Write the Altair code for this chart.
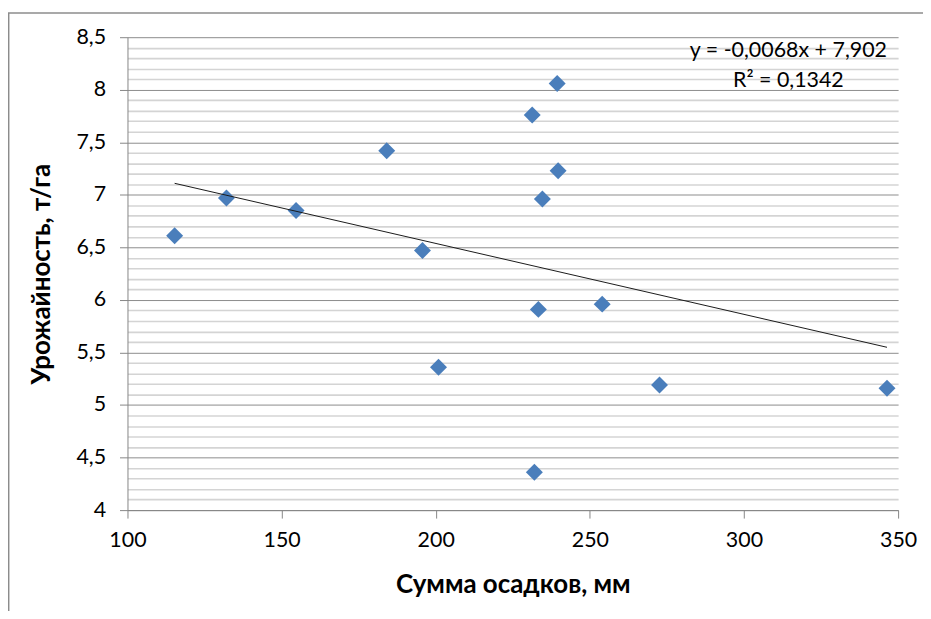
import altair as alt
import pandas as pd

# Data
rain = [115.3, 132.1, 154.7, 184.1, 195.7, 200.9, 231.3, 239.4, 239.7, 234.6, 233.3, 254.0, 232.0, 272.6, 346.4]
yield_t = [6.61, 6.97, 6.85, 7.42, 6.47, 5.36, 7.76, 8.06, 7.23, 6.96, 5.91, 5.96, 4.36, 5.19, 5.16]

x_ticks = [100, 150, 200, 250, 300, 350]
y_ticks = [4.0, 4.1, 4.2, 4.3, 4.4, 4.5, 4.6, 4.7, 4.8, 4.9,
           5.0, 5.1, 5.2, 5.3, 5.4, 5.5, 5.6, 5.7, 5.8, 5.9,
           6.0, 6.1, 6.2, 6.3, 6.4, 6.5, 6.6, 6.7, 6.8, 6.9,
           7.0, 7.1, 7.2, 7.3, 7.4, 7.5, 7.6, 7.7, 7.8, 7.9,
           8.0, 8.1, 8.2, 8.3, 8.4, 8.5]

ann_text = ["y = -0,0068x + 7,902", "R² = 0,1342"]
ann_x = [314.4, 314.4]
ann_y = [8.311, 8.027]

df = pd.DataFrame({"x": rain, "y": yield_t})
ann = pd.DataFrame({"x": ann_x, "y": ann_y, "t": ann_text})
one = pd.DataFrame({"a": [0]})

FONT = "Lato"
major = "abs(datum.value*2 - round(datum.value*2)) < 0.001"

xscale = alt.Scale(domain=[100, 350], nice=False, zero=False)
yscale = alt.Scale(domain=[4, 8.5], nice=False, zero=False)

xaxis = alt.Axis(
    values=x_ticks, tickCount=20, grid=False,
    domainColor="#868686", domainWidth=1,
    tickColor="#868686", tickSize=8, tickWidth=1,
    labelFont=FONT, labelFontSize=21.5, labelColor="#000000",
    labelPadding=12, labelFlush=False, labelOverlap=False,
    title="Сумма осадков, мм", titleFont=FONT, titleFontSize=26,
    titleFontWeight="bold", titleColor="#000000", titlePadding=20,
)

yaxis = alt.Axis(
    values=y_ticks, tickCount=100, grid=True,
    gridColor={"condition": {"test": major, "value": "#8C8C8C"}, "value": "#D4D4D4"},
    gridWidth={"condition": {"test": major, "value": 1}, "value": 1.6},
    domainColor="#868686", domainWidth=1,
    tickColor="#868686", tickSize=8, tickWidth=1,
    tickOpacity={"condition": {"test": major, "value": 1}, "value": 0},
    labelExpr=f"({major}) ? replace(toString(datum.value), '.', ',') : ''",
    labelFont=FONT, labelFontSize=21.5, labelColor="#000000",
    labelPadding=14, labelFlush=False, labelOverlap=False,
    title="Урожайность, т/га", titleFont=FONT, titleFontSize=26,
    titleFontWeight="bold", titleColor="#000000", titlePadding=21,
)

base = alt.Chart(df)

points = base.mark_point(shape="diamond", filled=True, size=290,
                         color="#4A7EBB", opacity=1).encode(
    x=alt.X("x:Q", scale=xscale, axis=xaxis),
    y=alt.Y("y:Q", scale=yscale, axis=yaxis),
)

trend = base.transform_regression("x", "y").mark_line(
    color="#1a1a1a", strokeWidth=1).encode(
    x=alt.X("x:Q", scale=xscale),
    y=alt.Y("y:Q", scale=yscale),
)

labels = alt.Chart(ann).mark_text(font=FONT, fontSize=21.5, color="#000000",
                                  align="center", baseline="alphabetic").encode(
    x=alt.X("x:Q", scale=xscale),
    y=alt.Y("y:Q", scale=yscale),
    text="t:N",
)

border_left = alt.Chart(one).mark_rule(color="#8C8C8C", strokeWidth=1.5).encode(
    x=alt.value(-119.3), y=alt.value(-24.3), y2=alt.value(700))
border_top = alt.Chart(one).mark_rule(color="#8C8C8C", strokeWidth=1.5).encode(
    x=alt.value(-120), x2=alt.value(900), y=alt.value(-24.3))

chart = alt.layer(points, trend, labels, border_left, border_top).properties(
    width=774, height=475,
    padding={"left": 120, "top": 28, "right": 25, "bottom": 100},
    autosize=alt.AutoSizeParams(type="none"),
).configure_view(stroke=None)

chart.save("out.html", embed_options={"renderer": "svg", "actions": False})
